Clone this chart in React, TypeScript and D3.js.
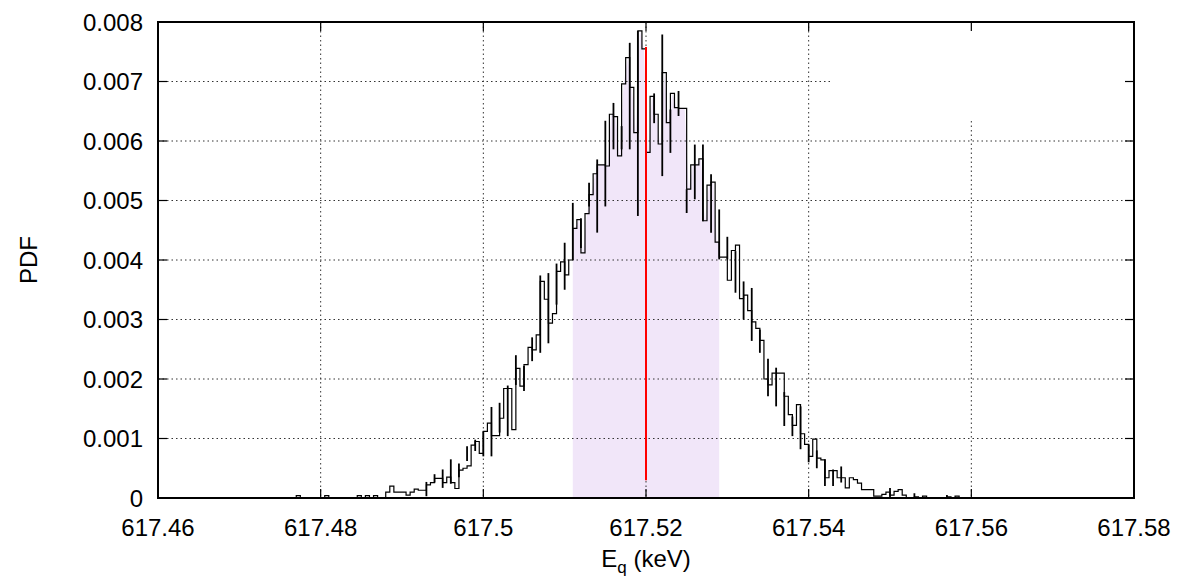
import React from 'react'
import * as d3 from 'd3'

// histogram: first bin left edge and bin width (keV)
const binStart = 617.475
const binWidth = 0.0005

// PDF value per bin
const pdfValues = [
  0, 0, 0, 0, 0.00004, 0, 0, 0, 0, 0,
  0, 0.00004, 0, 0, 0, 0, 0, 0, 0, 0.00004,
  0, 0.00004, 0, 0.00004, 0, 0, 0.0001, 0.0002, 0.0001, 0.0001,
  0.0001, 0.00005, 0.0001, 0.00015, 0.00013, 0.00013, 0.00022, 0.00026, 0.00033, 0.00033,
  0.00026, 0.00035, 0.00026, 0.00016, 0.00047, 0.0005, 0.00054, 0.00089, 0.00095, 0.00075,
  0.00112, 0.00126, 0.00105, 0.00105, 0.00134, 0.00184, 0.00184, 0.00115, 0.00218, 0.00188,
  0.00224, 0.00253, 0.00249, 0.00274, 0.00364, 0.00334, 0.00294, 0.0031, 0.00381, 0.00397,
  0.00375, 0.004, 0.00453, 0.00468, 0.00412, 0.00478, 0.0051, 0.00545, 0.0056, 0.0056,
  0.00558, 0.00645, 0.00641, 0.00575, 0.00696, 0.0074, 0.0069, 0.00614, 0.00785, 0.00755,
  0.00581, 0.00675, 0.00645, 0.00595, 0.00715, 0.00631, 0.0068, 0.00656, 0.00655, 0.00655,
  0.00519, 0.0056, 0.0056, 0.0057, 0.00466, 0.00526, 0.00531, 0.0043, 0.00405, 0.00405,
  0.00366, 0.00416, 0.00425, 0.00335, 0.00341, 0.00315, 0.00296, 0.00285, 0.00265, 0.002,
  0.0019, 0.0021, 0.0021, 0.0021, 0.00171, 0.0014, 0.00122, 0.00157, 0.00108, 0.0009,
  0.0007, 0.00099, 0.00067, 0.00064, 0.00034, 0.00046, 0.00046, 0.00034, 0.00034, 0.00017,
  0.00034, 0.00031, 0.00025, 0.00014, 0.00014, 0.00014, 0.00003, 0.00003, 0.00006, 0.0001,
  0.00005, 0.00011, 0.00014, 0.00005, 0, 0, 0.00002, 0, 0.00003, 0,
  0, 0, 0, 0, 0.00002, 0, 0.00003, 0, 0, 0, 0,
]

// error bars: energy, low, high
const errorBars = [
  { e: 617.493, lo: 0.00003, hi: 0.00027 },
  { e: 617.494, lo: 0.00026, hi: 0.0004 },
  { e: 617.495, lo: 0.00017, hi: 0.00048 },
  { e: 617.496, lo: 0.00024, hi: 0.00065 },
  { e: 617.497, lo: 0.00035, hi: 0.00058 },
  { e: 617.498, lo: 0.00062, hi: 0.00087 },
  { e: 617.499, lo: 0.00079, hi: 0.00098 },
  { e: 617.5, lo: 0.0007, hi: 0.00112 },
  { e: 617.501, lo: 0.0007, hi: 0.00153 },
  { e: 617.502, lo: 0.0011, hi: 0.0016 },
  { e: 617.503, lo: 0.00104, hi: 0.00189 },
  { e: 617.504, lo: 0.0019, hi: 0.0024 },
  { e: 617.505, lo: 0.0018, hi: 0.00222 },
  { e: 617.506, lo: 0.0023, hi: 0.0027 },
  { e: 617.507, lo: 0.00244, hi: 0.00374 },
  { e: 617.508, lo: 0.0026, hi: 0.00378 },
  { e: 617.509, lo: 0.00325, hi: 0.00394 },
  { e: 617.51, lo: 0.0035, hi: 0.00429 },
  { e: 617.511, lo: 0.004, hi: 0.00496 },
  { e: 617.512, lo: 0.0042, hi: 0.0047 },
  { e: 617.513, lo: 0.0049, hi: 0.0053 },
  { e: 617.514, lo: 0.00446, hi: 0.00569 },
  { e: 617.515, lo: 0.0049, hi: 0.00634 },
  { e: 617.516, lo: 0.00586, hi: 0.00664 },
  { e: 617.517, lo: 0.00586, hi: 0.00625 },
  { e: 617.518, lo: 0.00586, hi: 0.00765 },
  { e: 617.519, lo: 0.00474, hi: 0.00785 },
  { e: 617.521, lo: 0.0063, hi: 0.0068 },
  { e: 617.522, lo: 0.00541, hi: 0.00779 },
  { e: 617.523, lo: 0.0058, hi: 0.00653 },
  { e: 617.524, lo: 0.00642, hi: 0.00684 },
  { e: 617.525, lo: 0.00479, hi: 0.00519 },
  { e: 617.526, lo: 0.00502, hi: 0.00594 },
  { e: 617.527, lo: 0.00465, hi: 0.00594 },
  { e: 617.528, lo: 0.00446, hi: 0.00544 },
  { e: 617.529, lo: 0.00401, hi: 0.00485 },
  { e: 617.53, lo: 0.00401, hi: 0.00439 },
  { e: 617.531, lo: 0.00345, hi: 0.00415 },
  { e: 617.532, lo: 0.003, hi: 0.00364 },
  { e: 617.533, lo: 0.00264, hi: 0.00353 },
  { e: 617.534, lo: 0.00244, hi: 0.00283 },
  { e: 617.535, lo: 0.00171, hi: 0.00234 },
  { e: 617.536, lo: 0.00154, hi: 0.00219 },
  { e: 617.537, lo: 0.00121, hi: 0.00178 },
  { e: 617.538, lo: 0.00104, hi: 0.00137 },
  { e: 617.539, lo: 0.00082, hi: 0.00154 },
  { e: 617.54, lo: 0.0006, hi: 0.0009 },
  { e: 617.541, lo: 0.0005, hi: 0.0008 },
  { e: 617.542, lo: 0.0002, hi: 0.00065 },
  { e: 617.543, lo: 0.0002, hi: 0.00048 },
  { e: 617.544, lo: 0.00026, hi: 0.00053 },
  { e: 617.55, lo: 0, hi: 0.00017 },
  { e: 617.553, lo: 0, hi: 0.00008 },
  { e: 617.557, lo: 0, hi: 0.00005 },
]

// shaded interval and mean line
const intervalLo = 617.511
const intervalHi = 617.529
const meanE = 617.52
const meanLineLo = 0.0003
const meanLineHi = 0.00758

const xTicks = [617.46, 617.48, 617.5, 617.52, 617.54, 617.56, 617.58]
const xTickLabels = ['617.46', '617.48', '617.5', '617.52', '617.54', '617.56', '617.58']
const yTicks = [0, 0.001, 0.002, 0.003, 0.004, 0.005, 0.006, 0.007, 0.008]
const yTickLabels = ['0', '0.001', '0.002', '0.003', '0.004', '0.005', '0.006', '0.007', '0.008']

const W = 1182
const H = 577
const left = 158
const right = 1134
const top = 22
const bottom = 498
const font = '"Liberation Sans", Arial, Helvetica, sans-serif'

export default function App() {
  const x = d3.scaleLinear().domain([617.46, 617.58]).range([left, right])
  const y = d3.scaleLinear().domain([0, 0.008]).range([bottom, top])

  const bins = pdfValues.map((v, i) => ({ e: binStart + i * binWidth, v }))
  const stepPts: [number, number][] = bins.map((b) => [b.e, b.v])
  stepPts.push([binStart + pdfValues.length * binWidth, 0])
  const stepLine = d3
    .line<[number, number]>()
    .x((d) => x(d[0]))
    .y((d) => y(d[1]))
    .curve(d3.curveStepAfter)

  // fill under the histogram inside the interval, through bin centres
  const inside = bins.filter((b) => b.e >= intervalLo - 1e-9 && b.e < intervalHi - 1e-9)
  const fillPts: [number, number][] = [
    [intervalLo, inside[0].v],
    ...inside.map((b) => [b.e + binWidth / 2, b.v] as [number, number]),
    [intervalHi, inside[inside.length - 1].v],
  ]
  const fillArea = d3
    .area<[number, number]>()
    .x((d) => x(d[0]))
    .y0(y(0))
    .y1((d) => y(d[1]))

  const tick = 9

  return (
    <svg width={W} height={H} style={{ position: 'absolute', left: 0, top: 0, background: '#fff' }}>
      <path d={fillArea(fillPts) ?? ''} fill="#f1e6f9" />

      {/* grid */}
      <g stroke="#333" strokeWidth={1} strokeDasharray="1.5,3">
        {xTicks.slice(1, -1).map((t) => (
          <line key={'gx' + t} x1={x(t)} x2={x(t)} y1={top} y2={bottom} />
        ))}
        {yTicks.slice(1, -1).map((t) => (
          <line key={'gy' + t} x1={left} x2={right} y1={y(t)} y2={y(t)} />
        ))}
      </g>
      {/* empty key area */}
      <rect x={830} y={top + 1} width={right - 830 - 1} height={98} fill="#fff" />

      <path d={stepLine(stepPts) ?? ''} fill="none" stroke="#000" strokeWidth={1.2} />

      <g stroke="#000" strokeWidth={1.8}>
        {errorBars.map((b) => (
          <line key={'eb' + b.e} x1={x(b.e)} x2={x(b.e)} y1={y(b.lo)} y2={y(b.hi)} />
        ))}
      </g>

      <line x1={x(meanE)} x2={x(meanE)} y1={y(meanLineLo)} y2={y(meanLineHi)} stroke="#ff0000" strokeWidth={2} />

      {/* ticks, all four sides */}
      <g stroke="#000" strokeWidth={1.2}>
        {xTicks.map((t) => (
          <g key={'tx' + t}>
            <line x1={x(t)} x2={x(t)} y1={bottom} y2={bottom - tick} />
            <line x1={x(t)} x2={x(t)} y1={top} y2={top + tick} />
          </g>
        ))}
        {yTicks.map((t) => (
          <g key={'ty' + t}>
            <line x1={left} x2={left + tick} y1={y(t)} y2={y(t)} />
            <line x1={right} x2={right - tick} y1={y(t)} y2={y(t)} />
          </g>
        ))}
      </g>
      <rect x={left} y={top} width={right - left} height={bottom - top} fill="none" stroke="#000" strokeWidth={2} />

      <g fontFamily={font} fontSize={24} fill="#000">
        {yTicks.map((t, i) => (
          <text key={'ly' + t} x={left - 15} y={y(t)} textAnchor="end" dominantBaseline="central">
            {yTickLabels[i]}
          </text>
        ))}
        {xTicks.map((t, i) => (
          <text key={'lx' + t} x={x(t)} y={536} textAnchor="middle">
            {xTickLabels[i]}
          </text>
        ))}
        <text x={x(617.52)} y={567} textAnchor="middle">
          E<tspan fontSize={17} dy={6}>q</tspan>
          <tspan dy={-6}> (keV)</tspan>
        </text>
        <text transform={`translate(28,${(top + bottom) / 2}) rotate(-90)`} textAnchor="middle" dominantBaseline="central">
          PDF
        </text>
      </g>
    </svg>
  )
}
